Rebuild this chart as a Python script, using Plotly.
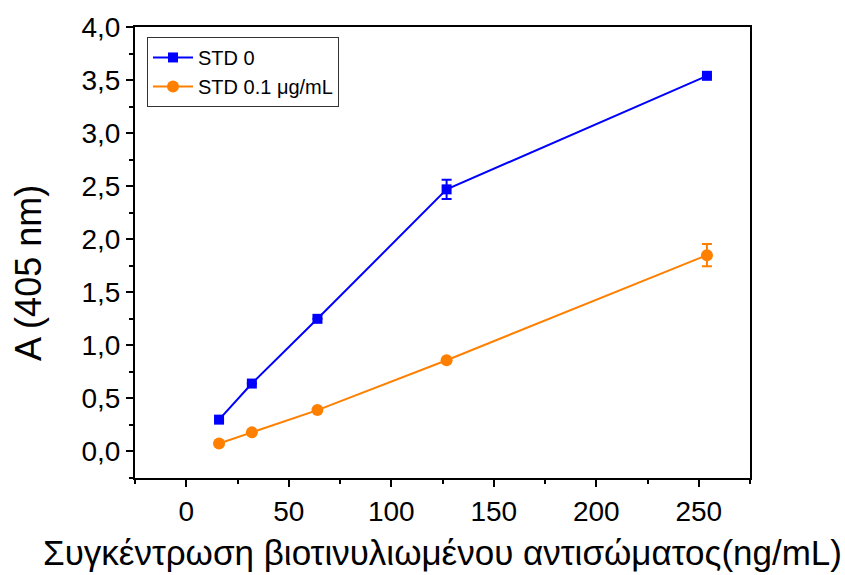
import plotly.graph_objects as go

# Antibody concentration (ng/mL)
conc = [16, 32, 64, 127, 254]

# Absorbance at 405 nm
std0 = [0.30, 0.64, 1.25, 2.47, 3.54]
std0_err = [0.0, 0.0, 0.0, 0.09, 0.0]
std01 = [0.075, 0.18, 0.39, 0.86, 1.85]
std01_err = [0.0, 0.0, 0.0, 0.0, 0.105]

names = ["STD 0", "STD 0.1 μg/mL"]
x_title = "Συγκέντρωση βιοτινυλιωμένου αντισώματος(ng/mL)"
y_title = "A (405 nm)"
FONT = "Liberation Sans, Arial, sans-serif"

W, H = 845, 575
L, R, T, B = 135, 95, 25, 97

fig = go.Figure()
fig.add_trace(go.Scatter(
    x=conc, y=std0, name=names[0], mode="lines+markers",
    line=dict(color="#0000FF", width=2),
    marker=dict(symbol="square", size=10, color="#0000FF"),
    error_y=dict(type="data", array=std0_err, visible=True,
                 color="#0000FF", thickness=2, width=5),
))
fig.add_trace(go.Scatter(
    x=conc, y=std01, name=names[1], mode="lines+markers",
    line=dict(color="#FF8000", width=2),
    marker=dict(symbol="circle", size=12, color="#FF8000"),
    error_y=dict(type="data", array=std01_err, visible=True,
                 color="#FF8000", thickness=2, width=5),
))

# Axis titles placed as annotations (pixel offsets converted to paper units)
pw, ph = W - L - R, H - T - B
fig.add_annotation(
    text=x_title, xref="paper", yref="paper",
    x=0.5, y=-(553 - (H - B)) / ph, xanchor="center", yanchor="middle",
    showarrow=False, font=dict(size=35, family=FONT, color="black"),
)
fig.add_annotation(
    text=y_title, xref="paper", yref="paper", textangle=-90,
    x=(29 - L) / pw, y=(H - B - 272) / ph, xanchor="center", yanchor="middle",
    showarrow=False, font=dict(size=36, family=FONT, color="black"),
)

fig.update_layout(
    width=W, height=H,
    margin=dict(l=L, r=R, t=T, b=B),
    paper_bgcolor="white", plot_bgcolor="white",
    separators=",.",
    font=dict(family=FONT, color="black"),
    showlegend=True,
    legend=dict(
        x=(147 - L) / pw, y=(H - B - 35) / ph, xanchor="left", yanchor="top",
        bgcolor="white", bordercolor="#333333", borderwidth=1,
        font=dict(size=20, family=FONT), tracegroupgap=0,
        itemwidth=40,
    ),
    xaxis=dict(
        range=[-25, 275], tickvals=[0, 50, 100, 150, 200, 250],
        ticks="outside", ticklen=7, tickwidth=1.5, tickcolor="black",
        minor=dict(tickvals=[-25, 25, 75, 125, 175, 225, 275], ticks="outside",
                   ticklen=4, tickwidth=1.5, tickcolor="black"),
        showline=True, linecolor="black", linewidth=2, mirror=True,
        showgrid=False, zeroline=False,
        tickfont=dict(size=28, family=FONT),
    ),
    yaxis=dict(
        range=[-0.25, 4.0], tickvals=[0, 0.5, 1, 1.5, 2, 2.5, 3, 3.5, 4],
        tickformat=".1f",
        ticks="outside", ticklen=7, tickwidth=1.5, tickcolor="black",
        minor=dict(tickvals=[-0.25, 0.25, 0.75, 1.25, 1.75, 2.25, 2.75, 3.25, 3.75],
                   ticks="outside", ticklen=4, tickwidth=1.5, tickcolor="black"),
        showline=True, linecolor="black", linewidth=2, mirror=True,
        showgrid=False, zeroline=False,
        tickfont=dict(size=28, family=FONT),
    ),
)

fig.write_html("out.html")
